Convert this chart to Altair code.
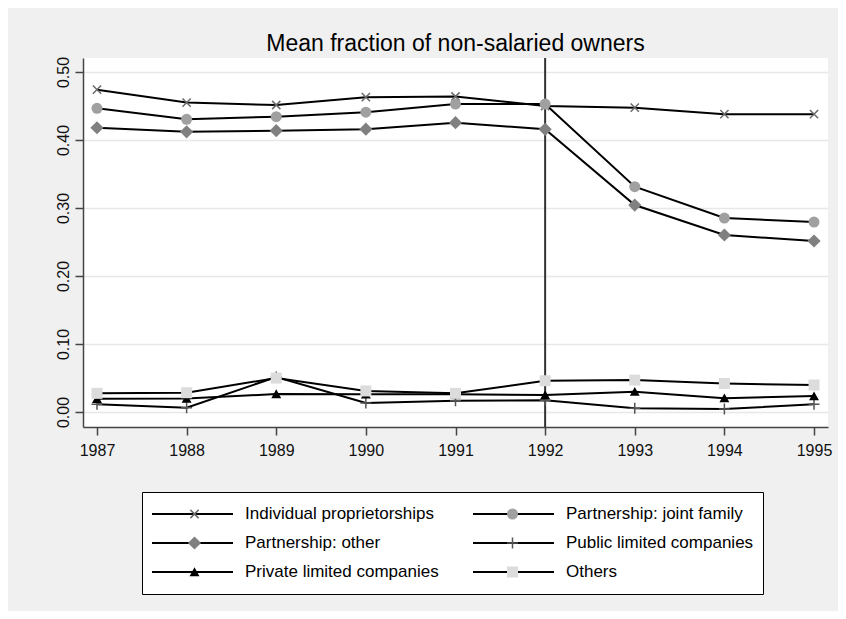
import altair as alt
import pandas as pd

# ---- data ----
years = [1987, 1988, 1989, 1990, 1991, 1992, 1993, 1994, 1995]
individual = [0.474, 0.455, 0.4515, 0.463, 0.464, 0.450, 0.4475, 0.438, 0.438]
joint_family = [0.4466, 0.4304, 0.4343, 0.441, 0.4529, 0.4529, 0.3313, 0.2853, 0.2794]
partnership_other = [0.418, 0.412, 0.4137, 0.416, 0.4255, 0.4157, 0.3044, 0.2603, 0.2515]
public_ltd = [0.0113, 0.0063, 0.0515, 0.0132, 0.0166, 0.0174, 0.0054, 0.0044, 0.0113]
private_ltd = [0.0195, 0.0198, 0.0265, 0.026, 0.026, 0.025, 0.030, 0.0203, 0.0235]
others = [0.0275, 0.0284, 0.050, 0.031, 0.0275, 0.046, 0.047, 0.042, 0.0397]

names = [
    "Individual proprietorships",
    "Partnership: joint family",
    "Partnership: other",
    "Public limited companies",
    "Private limited companies",
    "Others",
]
series_values = [individual, joint_family, partnership_other, public_ltd, private_ltd, others]
y_ticks = [0.0, 0.1, 0.2, 0.3, 0.4, 0.5]
break_year = [1992]
title_text = "Mean fraction of non-salaried owners"

# ---- styles ----
fills = ["transparent", "#a0a0a0", "#808080", "transparent", "#000000", "#dcdcdc"]
strokes = ["#6a6a6a", "transparent", "transparent", "#555555", "transparent", "transparent"]
shapes = [
    "M-0.75,-0.75L0.75,0.75M-0.75,0.75L0.75,-0.75",
    "circle",
    "M0,-1.2L1.2,0L0,1.2L-1.2,0Z",
    "M-1,0H1M0,-1V1",
    "M0,-0.85L0.9,0.75L-0.9,0.75Z",
    "square",
]

rows = []
for name, vals in zip(names, series_values):
    for yr, v in zip(years, vals):
        rows.append({"year": yr, "value": v, "series": name, "line_series": name})
df = pd.DataFrame(rows)
vdf = pd.DataFrame({"year": break_year})

FONT = "Liberation Sans"

x_enc = alt.X(
    "year:Q",
    scale=alt.Scale(domain=[1986.844, 1995.156], nice=False, zero=False),
    axis=alt.Axis(values=years, format="d", title=None, grid=False, labelFontSize=16,
                  tickSize=8, labelPadding=7, labelFlush=False),
)
y_enc = alt.Y(
    "value:Q",
    scale=alt.Scale(domain=[-0.022, 0.5206], nice=False, zero=False),
    axis=alt.Axis(values=y_ticks, format=".2f", title=None, grid=True, labelAngle=270,
                  labelAlign="center", labelBaseline="bottom", labelPadding=4,
                  tickSize=8, labelFontSize=16),
)

LX, LY = 59, 434

legend_lines = alt.Legend(
    title=None, orient="none", legendX=LX, legendY=LY, columns=2, direction="horizontal",
    symbolType="stroke", symbolSize=6561, symbolStrokeWidth=2, symbolStrokeColor="black",
    clipHeight=26, rowPadding=3, columnPadding=33,
    labelFontSize=17, labelFont=FONT, labelColor="black", labelOffset=11, labelLimit=400,
    padding=9, fillColor="white", strokeColor="black", symbolOffset=0,
)
legend_marks = alt.Legend(
    title=None, orient="none", legendX=LX, legendY=LY, columns=2, direction="horizontal",
    symbolSize=121, symbolStrokeWidth=1.5, symbolOpacity=1,
    symbolFillColor="transparent", symbolStrokeColor="transparent",
    clipHeight=26, rowPadding=3, columnPadding=266,
    labelExpr="''", labelFontSize=17, labelFont=FONT, labelOffset=0,
    padding=9, symbolOffset=35, zindex=2,
)

vline = alt.Chart(vdf).mark_rule(color="#333333", strokeWidth=2).encode(x=x_enc)

lines = alt.Chart(df).mark_line(strokeWidth=2).encode(
    x=x_enc,
    y=y_enc,
    color=alt.Color("line_series:N", sort=names, scale=alt.Scale(range=["black"] * 6),
                    legend=legend_lines),
)

points = alt.Chart(df).mark_point(filled=True, opacity=1, size=121, strokeWidth=1.5).encode(
    x=x_enc,
    y=y_enc,
    fill=alt.Fill("series:N", scale=alt.Scale(domain=names, range=fills), legend=legend_marks),
    stroke=alt.Stroke("series:N", scale=alt.Scale(domain=names, range=strokes), legend=legend_marks),
    shape=alt.Shape("series:N", scale=alt.Scale(domain=names, range=shapes), legend=legend_marks),
)

chart = (
    alt.layer(vline, lines, points)
    .properties(
        width=745,
        height=369,
        title=alt.TitleParams(title_text, fontSize=23, font=FONT, fontWeight="normal",
                              color="black", anchor="middle", offset=0),
        padding={"left": 75, "top": 50, "right": 10, "bottom": 184},
        autosize=alt.AutoSizeParams(type="none"),
    )
    .configure(background="#f0f0f0")
    .configure_view(fill="white", strokeWidth=0)
    .configure_axis(domainColor="#444444", domainWidth=1.5, tickColor="#444444", tickWidth=1.5,
                    labelColor="#111111", labelFont=FONT, gridColor="#e8e8e8", gridWidth=1.5)
)

chart.save("out.html", embed_options={"renderer": "svg", "actions": False})
